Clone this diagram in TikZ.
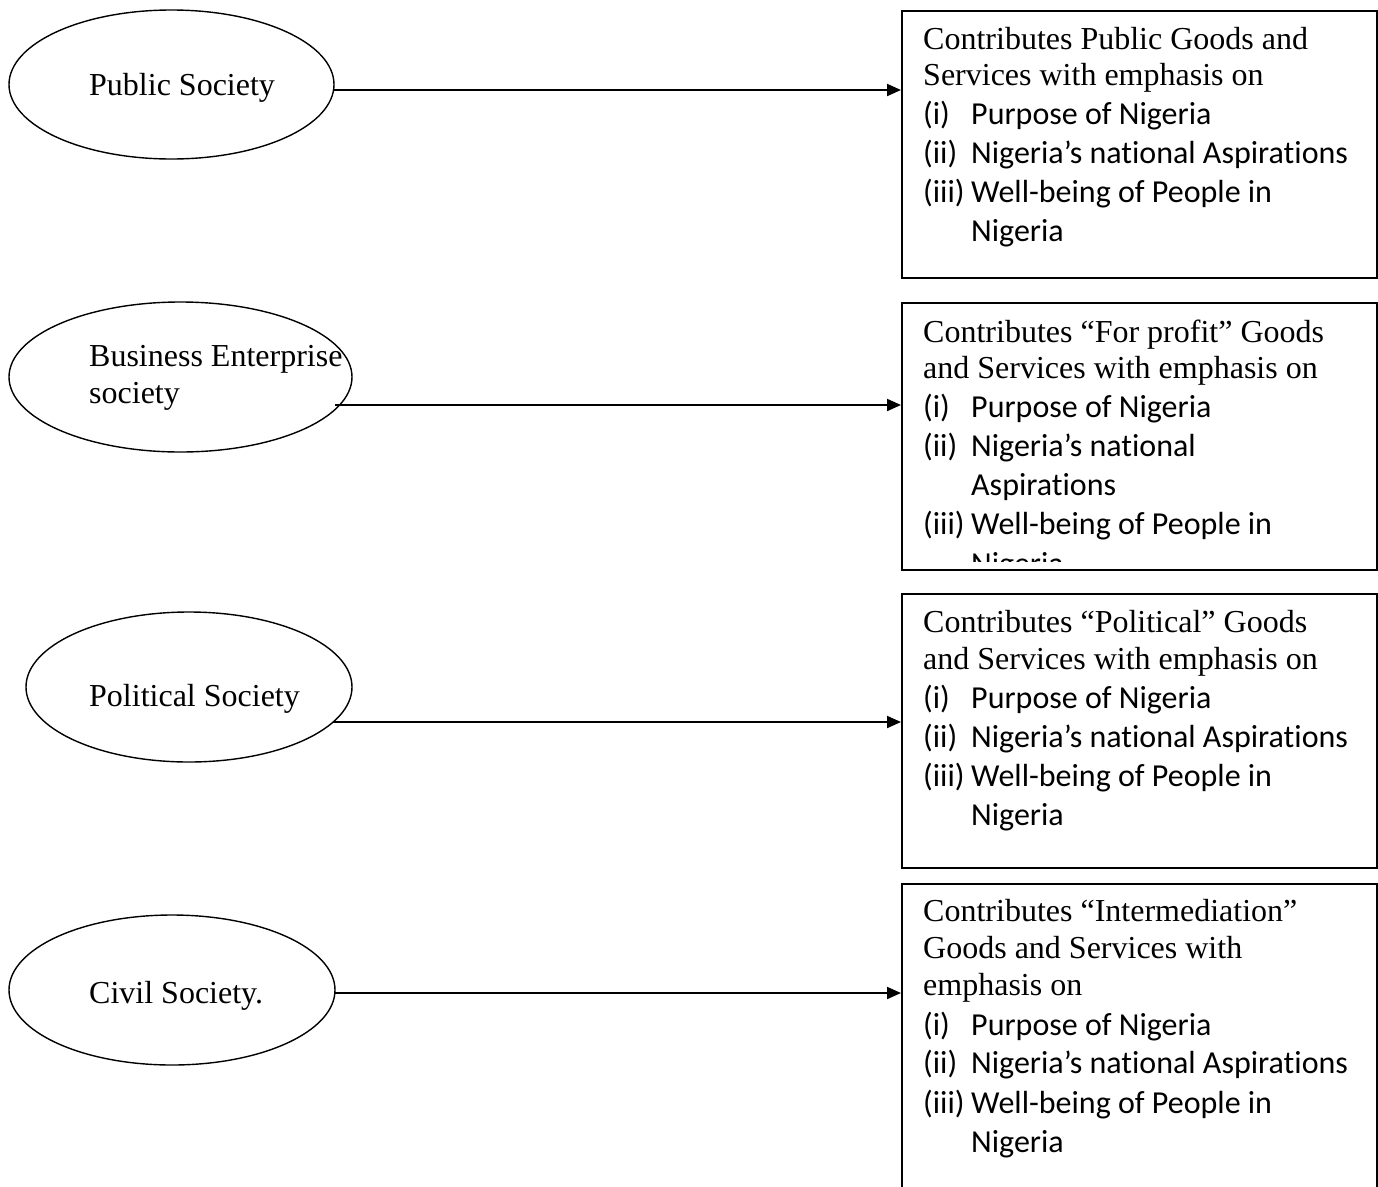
\documentclass[tikz,border=0pt]{standalone}
\usepackage{fontspec}
\setmainfont{Liberation Serif}
\newfontfamily\calfont[Ligatures=NoCommon]{Carlito}
\usetikzlibrary{shapes.geometric,arrows.meta}
\begin{document}
\begin{tikzpicture}[x=1pt,y=-1pt,
  oval/.style={draw, ellipse, line width=1.4pt, inner sep=0pt},
  card/.style={draw, rectangle, line width=1.8pt, inner sep=0pt, anchor=north west, minimum width=475pt},
  serif/.style={anchor=base west, inner sep=0pt, font=\fontsize{32}{38}\selectfont},
  sans/.style={anchor=base west, inner sep=0pt, font=\calfont\fontsize{32}{39}\selectfont},
  link/.style={line width=2pt, -{Triangle[length=14pt,width=12pt]}}]
\useasboundingbox (0,0) rectangle (1378,1186);
\clip (0,0) rectangle (1378,1186);

% the four societies
\node[oval, minimum width=325pt, minimum height=149pt] (e1) at (171.5,84.5) {};
\node[oval, minimum width=343pt, minimum height=150pt] (e2) at (180.5,377) {};
\node[oval, minimum width=326pt, minimum height=150pt] (e3) at (189,687) {};
\node[oval, minimum width=326pt, minimum height=150pt] (e4) at (172,990) {};

\node[serif] (t1) at (89,95) {Public Society};
\node[serif] (t2a) at (89,366) {Business Enterprise};
\node[serif] (t2b) at (89,403) {society};
\node[serif] (t3) at (89,706) {Political Society};
\node[serif] (t4) at (89,1003) {Civil Society.};

% the contribution boxes
\node[card, minimum height=267pt] (b1) at (901,10) {};
\node[card, minimum height=267pt] (b2) at (901,302) {};
\node[card, minimum height=274pt] (b3) at (901,593) {};
\node[card, minimum height=400pt] (b4) at (901,883) {};

% box 1
\node[serif] (b1a) at (923,49) {Contributes Public Goods and};
\node[serif] (b1b) at (923,85) {Services with emphasis on};
\node[sans] (b1i) at (923,124) {(i)};
\node[sans] (b1it) at (971,124) {Purpose of Nigeria};
\node[sans] (b1ii) at (923,163) {(ii)};
\node[sans] (b1iit) at (971,163) {Nigeria’s national Aspirations};
\node[sans] (b1iii) at (923,202) {(iii)};
\node[sans] (b1iiit) at (971,202) {Well-being of People in};
\node[sans] (b1iiiu) at (971,241) {Nigeria};

% box 2 (its last line runs past the text area and is cut off)
\begin{scope}
\clip (901,302) rectangle (1376,561);
\node[serif] (b2a) at (923,342) {Contributes “For profit” Goods};
\node[serif] (b2b) at (923,378) {and Services with emphasis on};
\node[sans] (b2i) at (923,417) {(i)};
\node[sans] (b2it) at (971,417) {Purpose of Nigeria};
\node[sans] (b2ii) at (923,456) {(ii)};
\node[sans] (b2iit) at (971,456) {Nigeria’s national};
\node[sans] (b2iiu) at (971,495) {Aspirations};
\node[sans] (b2iii) at (923,534) {(iii)};
\node[sans] (b2iiit) at (971,534) {Well-being of People in};
\node[sans] (b2iiiu) at (971,574) {Nigeria};
\end{scope}

% box 3
\node[serif] (b3a) at (923,632) {Contributes “Political” Goods};
\node[serif] (b3b) at (923,669) {and Services with emphasis on};
\node[sans] (b3i) at (923,708) {(i)};
\node[sans] (b3it) at (971,708) {Purpose of Nigeria};
\node[sans] (b3ii) at (923,747) {(ii)};
\node[sans] (b3iit) at (971,747) {Nigeria’s national Aspirations};
\node[sans] (b3iii) at (923,786) {(iii)};
\node[sans] (b3iiit) at (971,786) {Well-being of People in};
\node[sans] (b3iiiu) at (971,825) {Nigeria};

% box 4
\node[serif] (b4a) at (923,921) {Contributes “Intermediation”};
\node[serif] (b4b) at (923,958) {Goods and Services with};
\node[serif] (b4c) at (923,995) {emphasis on};
\node[sans] (b4i) at (923,1035) {(i)};
\node[sans] (b4it) at (971,1035) {Purpose of Nigeria};
\node[sans] (b4ii) at (923,1073) {(ii)};
\node[sans] (b4iit) at (971,1073) {Nigeria’s national Aspirations};
\node[sans] (b4iii) at (923,1113) {(iii)};
\node[sans] (b4iiit) at (971,1113) {Well-being of People in};
\node[sans] (b4iiiu) at (971,1152) {Nigeria};

% arrows from each society to its box
\coordinate (s1) at (334,90);
\coordinate (s2) at (335,405);
\coordinate (s3) at (333,722);
\coordinate (s4) at (335,993);
\draw[link] (s1) -- (s1 -| b1.west);
\draw[link] (s2) -- (s2 -| b2.west);
\draw[link] (s3) -- (s3 -| b3.west);
\draw[link] (s4) -- (s4 -| b4.west);
\end{tikzpicture}
\end{document}
